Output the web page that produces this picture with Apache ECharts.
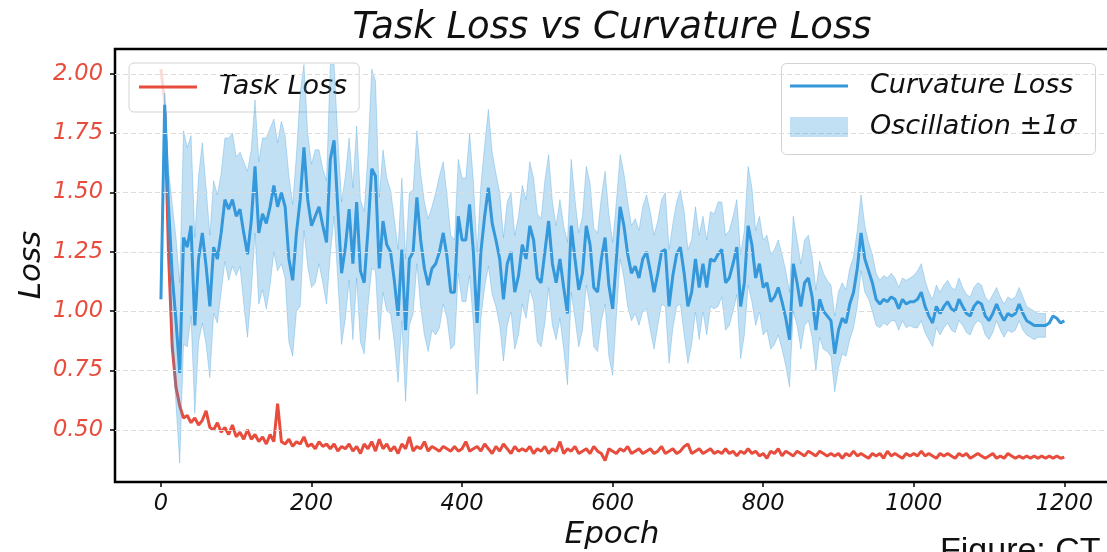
<!DOCTYPE html>
<html>
<head>
<meta charset="utf-8">
<script src="https://cdn.jsdelivr.net/npm/echarts@6/dist/echarts.min.js"></script>
<style>
  html, body { margin: 0; padding: 0; background: #fff; }
  #chart { width: 1107px; height: 552px; }
</style>
</head>
<body>
<div id="chart"></div>
<script>
const STEP = 5;

const taskLoss = [
  2.02, 1.88, 1.25, 0.85, 0.68, 0.60, 0.55, 0.56, 0.53, 0.55,
  0.52, 0.54, 0.58, 0.51, 0.50, 0.53, 0.49, 0.51, 0.48, 0.52,
  0.47, 0.49, 0.46, 0.50, 0.46, 0.48, 0.45, 0.47, 0.44, 0.48,
  0.45, 0.61, 0.45, 0.44, 0.46, 0.43, 0.45, 0.44, 0.47, 0.43,
  0.44, 0.42, 0.45, 0.43, 0.44, 0.42, 0.44, 0.41, 0.43, 0.42,
  0.44, 0.41, 0.43, 0.40, 0.44, 0.42, 0.45, 0.41, 0.46, 0.42,
  0.44, 0.41, 0.43, 0.40, 0.44, 0.42, 0.47, 0.41, 0.43, 0.42,
  0.45, 0.41, 0.43, 0.42, 0.41, 0.43, 0.42, 0.41, 0.43, 0.41,
  0.42, 0.45, 0.41, 0.42, 0.43, 0.41, 0.44, 0.42, 0.40, 0.43,
  0.41, 0.44, 0.42, 0.40, 0.43, 0.41, 0.42, 0.41, 0.43, 0.40,
  0.42, 0.41, 0.43, 0.40, 0.42, 0.41, 0.45, 0.40, 0.42, 0.41,
  0.43, 0.40, 0.41, 0.42, 0.40, 0.43, 0.41, 0.40, 0.37, 0.42,
  0.41, 0.40, 0.42, 0.41, 0.43, 0.40, 0.41, 0.42, 0.40, 0.41,
  0.42, 0.40, 0.41, 0.43, 0.40, 0.41, 0.42, 0.40, 0.41, 0.43,
  0.44, 0.40, 0.41, 0.42, 0.40, 0.41, 0.42, 0.40, 0.41, 0.40,
  0.42, 0.40, 0.41, 0.39, 0.41, 0.40, 0.42, 0.40, 0.41, 0.39,
  0.40, 0.38, 0.41, 0.40, 0.42, 0.39, 0.41, 0.40, 0.39, 0.41,
  0.40, 0.39, 0.41, 0.40, 0.39, 0.41, 0.40, 0.39, 0.40, 0.39,
  0.40, 0.38, 0.40, 0.39, 0.41, 0.39, 0.40, 0.39, 0.38, 0.40,
  0.39, 0.40, 0.38, 0.41, 0.39, 0.40, 0.39, 0.38, 0.40, 0.39,
  0.40, 0.39, 0.41, 0.39, 0.40, 0.39, 0.38, 0.40, 0.39, 0.40,
  0.39, 0.38, 0.40, 0.39, 0.40, 0.38, 0.39, 0.40, 0.39, 0.38,
  0.39, 0.40, 0.38, 0.39, 0.38, 0.40, 0.39, 0.38, 0.39, 0.38,
  0.39, 0.38, 0.39, 0.38, 0.39, 0.38, 0.39, 0.38, 0.39, 0.38,
  0.385
];

const curvLoss = [
  1.05, 1.87, 1.45, 1.15, 0.96, 0.74, 1.31, 1.27, 1.36, 0.94,
  1.22, 1.33, 1.19, 1.02, 1.27, 1.22, 1.33, 1.47, 1.43, 1.47,
  1.40, 1.43, 1.33, 1.24, 1.38, 1.61, 1.33, 1.41, 1.37, 1.44,
  1.53, 1.44, 1.50, 1.44, 1.22, 1.13, 1.33, 1.47, 1.69, 1.47,
  1.36, 1.40, 1.44, 1.36, 1.29, 1.64, 1.72, 1.43, 1.16, 1.27,
  1.43, 1.20, 1.46, 1.17, 1.12, 1.34, 1.60, 1.57, 1.18, 1.38,
  1.28, 1.25, 1.13, 0.98, 1.26, 0.92, 1.22, 1.25, 1.48, 1.30,
  1.18, 1.11, 1.18, 1.20, 1.25, 1.33, 1.23, 1.08, 1.08, 1.40,
  1.30, 1.30, 1.45, 1.25, 0.95, 1.25, 1.40, 1.52, 1.37, 1.30,
  1.22, 1.05, 1.20, 1.25, 1.08, 1.15, 1.28, 1.22, 1.36, 1.30,
  1.14, 1.12, 1.25, 1.38, 1.20, 1.12, 1.22, 1.10, 0.99, 1.36,
  1.22, 1.09, 1.16, 1.36, 1.28, 1.10, 1.08, 1.22, 1.31, 1.11,
  1.01, 1.22, 1.44, 1.36, 1.24, 1.16, 1.19, 1.14, 1.22, 1.25,
  1.17, 1.08, 1.16, 1.25, 1.26, 1.02, 1.15, 1.24, 1.27, 1.16,
  1.02, 1.08, 1.22, 1.10, 1.20, 1.10, 1.22, 1.21, 1.24, 1.26,
  1.12, 1.14, 1.20, 1.27, 1.02, 1.12, 1.36, 1.28, 1.14, 1.20,
  1.10, 1.12, 1.04, 1.06, 1.10, 1.04, 0.97, 0.88, 1.20, 1.12,
  1.02, 1.12, 1.14, 1.06, 0.92, 1.05, 1.00, 0.98, 0.96, 0.82,
  0.92, 0.97, 0.95, 1.03, 1.08, 1.18, 1.33, 1.22, 1.17, 1.12,
  1.05, 1.03, 1.05, 1.04, 1.06, 1.05, 1.01, 1.05, 1.03, 1.04,
  1.04, 1.05, 1.08, 1.02, 0.98, 0.95, 1.02, 0.99, 1.02, 1.04,
  1.01, 1.00, 1.05, 1.02, 0.99, 0.98, 1.02, 1.04, 1.03, 0.98,
  0.96, 0.99, 1.03, 0.99, 0.96, 0.99, 0.98, 0.99, 1.03, 0.99,
  0.96, 0.95, 0.94, 0.94, 0.94, 0.94, 0.95, 0.98, 0.97, 0.95,
  0.96
];

// half width of the shaded band, stops at epoch 1175
const curvSigma = [
  0.00, 0.05, 0.15, 0.30, 0.35, 0.38, 0.45, 0.42, 0.38, 0.37,
  0.35, 0.38, 0.33, 0.30, 0.28, 0.27, 0.25, 0.26, 0.30, 0.28,
  0.25, 0.24, 0.30, 0.35, 0.30, 0.28, 0.30, 0.32, 0.36, 0.33,
  0.28, 0.27, 0.30, 0.30, 0.35, 0.32, 0.33, 0.45, 0.35, 0.28,
  0.26, 0.28, 0.24, 0.24, 0.26, 0.40, 0.32, 0.30, 0.30, 0.30,
  0.30, 0.32, 0.32, 0.30, 0.30, 0.32, 0.42, 0.40, 0.30, 0.30,
  0.28, 0.26, 0.26, 0.28, 0.30, 0.30, 0.28, 0.26, 0.28, 0.28,
  0.28, 0.28, 0.26, 0.30, 0.32, 0.30, 0.26, 0.24, 0.22, 0.24,
  0.26, 0.26, 0.30, 0.30, 0.30, 0.28, 0.30, 0.33, 0.30, 0.28,
  0.28, 0.26, 0.26, 0.25, 0.24, 0.25, 0.25, 0.25, 0.27, 0.26,
  0.27, 0.27, 0.30, 0.28, 0.26, 0.24, 0.25, 0.26, 0.30, 0.28,
  0.25, 0.24, 0.24, 0.25, 0.26, 0.25, 0.25, 0.26, 0.28, 0.30,
  0.28, 0.24, 0.22, 0.22, 0.22, 0.20, 0.20, 0.20, 0.22, 0.24,
  0.25, 0.24, 0.22, 0.22, 0.24, 0.24, 0.22, 0.22, 0.24, 0.26,
  0.24, 0.22, 0.22, 0.22, 0.20, 0.20, 0.20, 0.20, 0.22, 0.20,
  0.20, 0.20, 0.20, 0.20, 0.22, 0.22, 0.25, 0.24, 0.20, 0.20,
  0.20, 0.20, 0.20, 0.20, 0.20, 0.20, 0.20, 0.20, 0.20, 0.18,
  0.18, 0.18, 0.18, 0.17, 0.17, 0.16, 0.16, 0.15, 0.15, 0.16,
  0.16, 0.15, 0.14, 0.15, 0.15, 0.16, 0.16, 0.14, 0.12, 0.12,
  0.11, 0.10, 0.10, 0.10, 0.10, 0.09, 0.09, 0.09, 0.10, 0.10,
  0.11, 0.12, 0.12, 0.11, 0.10, 0.10, 0.09, 0.09, 0.09, 0.09,
  0.09, 0.09, 0.09, 0.08, 0.08, 0.08, 0.08, 0.08, 0.08, 0.08,
  0.08, 0.08, 0.07, 0.07, 0.07, 0.07, 0.07, 0.07, 0.07, 0.07,
  0.06, 0.06, 0.06, 0.05, 0.05, 0.05
];

const xTicks = [0, 200, 400, 600, 800, 1000, 1200];
const yTicks = [0.5, 0.75, 1.0, 1.25, 1.5, 1.75, 2.0];

const FONT = 'DejaVu Sans';
const RED = '#e74c3c';
const BLUE = '#3498db';
const BAND = 'rgba(52,152,219,0.3)';

const withEpoch = arr => arr.map((v, i) => [i * STEP, v]);
// [epoch, mean - sigma, mean + sigma]
const bandRows = curvSigma.map((s, i) => [i * STEP, curvLoss[i] - s, curvLoss[i] + s]);

const legendText = {
  fontFamily: FONT, fontStyle: 'italic', fontSize: 27, color: '#111',
  lineHeight: 28, padding: [0, 0, 0, 17]
};
const legendBase = {
  selectedMode: false, itemWidth: 58, textStyle: legendText, padding: 0
};

// fill_between as one polygon, placed through the grid's scales
function renderBand(params, api) {
  if (params.dataIndex !== 0) return null;
  const upper = bandRows.map(r => api.coord([r[0], r[2]]));
  const lower = bandRows.map(r => api.coord([r[0], r[1]])).reverse();
  return {
    type: 'polygon',
    shape: { points: upper.concat(lower) },
    style: { fill: BAND, stroke: BAND, lineWidth: 1 }
  };
}

const chart = echarts.init(document.getElementById('chart'), null, { renderer: 'canvas' });
chart.setOption({
  animation: false,
  backgroundColor: '#fff',
  // right edge of the frame falls just outside the canvas, as in the source
  grid: {
    left: 115, top: 49, width: 996, height: 433,
    outerBoundsMode: 'none',
    show: true, borderColor: '#000', borderWidth: 2.5, backgroundColor: 'transparent'
  },
  xAxis: {
    type: 'value', min: -61, max: 1262,
    axisLine: { show: false, onZero: false },
    splitLine: { show: false },
    axisTick: { show: true, customValues: xTicks, length: 5, lineStyle: { color: '#000', width: 1.5 } },
    axisLabel: {
      customValues: xTicks, margin: 11, color: '#111',
      fontFamily: FONT, fontStyle: 'italic', fontSize: 22.5,
      formatter: v => String(v)
    }
  },
  yAxis: {
    type: 'value', min: 0.28, max: 2.105,
    axisLine: { show: false, onZero: false },
    splitLine: { show: false },
    axisTick: { show: true, customValues: yTicks, length: 5, lineStyle: { color: '#000', width: 1.5 } },
    axisLabel: {
      customValues: yTicks, margin: 12, color: RED,
      fontFamily: FONT, fontStyle: 'italic', fontSize: 22.5,
      formatter: v => v.toFixed(2)
    }
  },
  legend: [
    Object.assign({}, legendBase, {
      data: [{ name: 'Task Loss', icon: 'rect' }],
      left: 129, top: 63, padding: [10, 12, 11, 10], itemHeight: 3,
      backgroundColor: 'rgba(255,255,255,0.8)', borderColor: 'rgba(200,200,200,0.8)',
      borderWidth: 1, borderRadius: 5, z: 2
    }),
    Object.assign({}, legendBase, {
      data: [{ name: 'Curvature Loss', icon: 'rect' }],
      left: 790, top: 72, itemHeight: 3, z: 6
    }),
    Object.assign({}, legendBase, {
      data: [{ name: 'Oscillation ±1σ', icon: 'rect', itemStyle: { color: BAND } }],
      left: 790, top: 113, itemHeight: 20, z: 6
    })
  ],
  graphic: [
    {
      type: 'rect', z: 5,
      shape: { x: 781.5, y: 63.5, width: 314, height: 91, r: 5 },
      style: { fill: 'rgba(255,255,255,0.8)', stroke: 'rgba(200,200,200,0.8)', lineWidth: 1 }
    },
    {
      type: 'text', x: 612, y: 28,
      style: { text: 'Task Loss vs Curvature Loss', fill: '#111', align: 'center', verticalAlign: 'middle',
               font: 'italic 37px "DejaVu Sans"' }
    },
    {
      type: 'text', x: 612, y: 535,
      style: { text: 'Epoch', fill: '#111', align: 'center', verticalAlign: 'middle',
               font: 'italic 31px "DejaVu Sans"' }
    },
    {
      type: 'text', x: 32, y: 265, rotation: Math.PI / 2,
      style: { text: 'Loss', fill: '#111', align: 'center', verticalAlign: 'middle',
               font: 'italic 31px "DejaVu Sans"' }
    },
    {
      type: 'text', x: 940, y: 552,
      style: { text: 'Figure: CT', fill: '#111', align: 'left', verticalAlign: 'middle',
               font: '34px "Liberation Sans"' }
    }
  ],
  series: [
    {
      name: 'Task Loss', type: 'line', data: withEpoch(taskLoss),
      symbol: 'none', z: 1,
      lineStyle: { color: RED, width: 3 }, itemStyle: { color: RED },
      markLine: {
        silent: true, symbol: 'none', label: { show: false },
        lineStyle: { color: '#dcdcdc', type: [5, 3], width: 1 },
        data: yTicks.map(v => ({ yAxis: v }))
      }
    },
    {
      name: 'Oscillation ±1σ', type: 'custom', data: bandRows,
      encode: { x: 0, y: [1, 2] },
      renderItem: renderBand, silent: true, z: 3,
      itemStyle: { color: BAND }
    },
    {
      name: 'Curvature Loss', type: 'line', data: withEpoch(curvLoss),
      symbol: 'none', z: 3,
      lineStyle: { color: BLUE, width: 3 }, itemStyle: { color: BLUE }
    }
  ]
});
</script>
</body>
</html>
